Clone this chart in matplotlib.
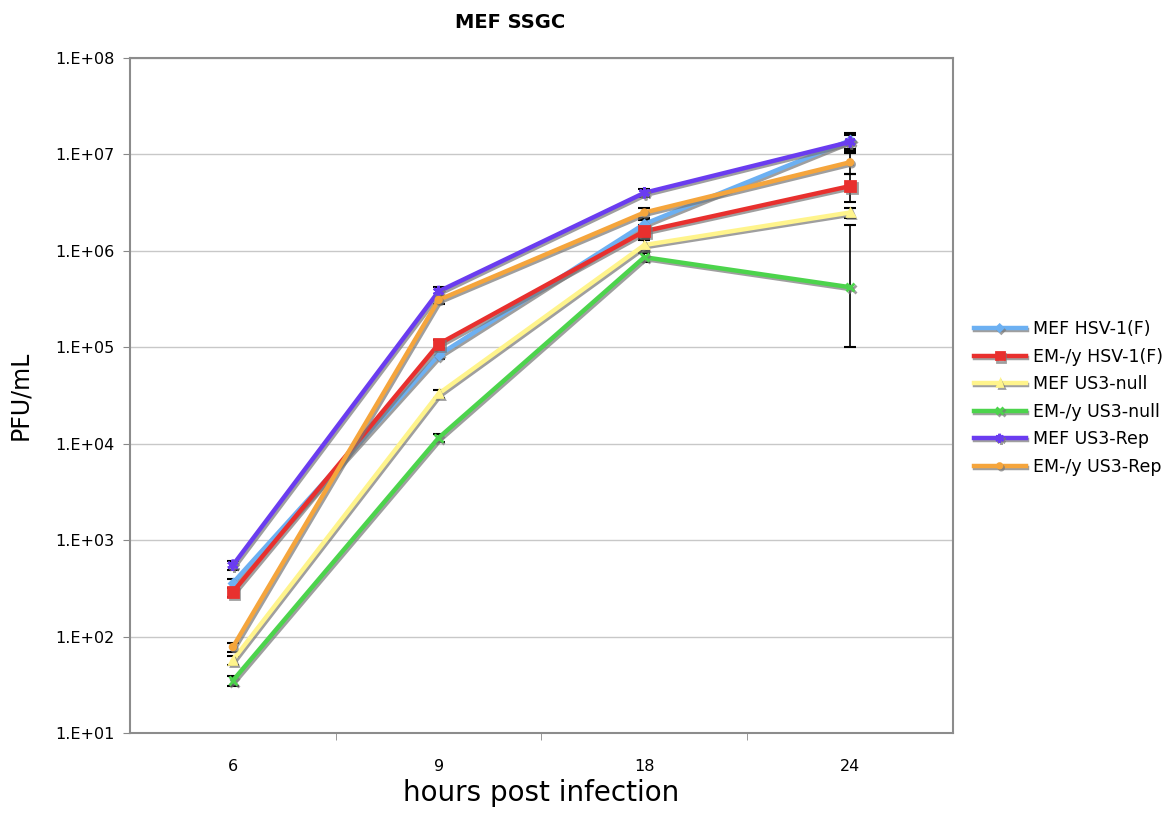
import numpy as np
import matplotlib
matplotlib.use("Agg")
import matplotlib.pyplot as plt
import matplotlib.patheffects as pe
from matplotlib.ticker import FixedLocator, FuncFormatter, NullFormatter

# ── data ──────────────────────────────────────────────────────────
hours = ["6", "9", "18", "24"]

series = ["MEF HSV-1(F)", "EM-/y HSV-1(F)", "MEF US3-null",
          "EM-/y US3-null", "MEF US3-Rep", "EM-/y US3-Rep"]

mef_hsv   = [360, 8.3e4, 1.9e6, 1.4e7]
em_hsv    = [290, 1.08e5, 1.6e6, 4.7e6]
mef_null  = [57, 3.3e4, 1.15e6, 2.5e6]
em_null   = [35, 1.15e4, 8.6e5, 4.2e5]
mef_rep   = [550, 3.8e5, 4.0e6, 1.35e7]
em_rep    = [78, 3.1e5, 2.5e6, 8.3e6]

# error bars (lower, upper)
mef_hsv_err  = ([40, 8e3, 2e5, 2.5e6], [40, 8e3, 2e5, 2.5e6])
em_hsv_err   = ([30, 1e4, 2.5e5, 1.5e6], [30, 1e4, 2.5e5, 1.5e6])
mef_null_err = ([6, 3e3, 1.5e5, 3e5], [6, 3e3, 1.5e5, 3e5])
em_null_err  = ([4, 1e3, 1e5, 3.2e5], [4, 1e3, 1e5, 1.43e6])
mef_rep_err  = ([60, 4e4, 4e5, 2.6e6], [60, 4e4, 4e5, 2.6e6])
em_rep_err   = ([8, 3e4, 3e5, 2e6], [8, 3e4, 3e5, 2e6])

values = [mef_hsv, em_hsv, mef_null, em_null, mef_rep, em_rep]
errors = [mef_hsv_err, em_hsv_err, mef_null_err, em_null_err, mef_rep_err, em_rep_err]

colors  = ["#6cb0f2", "#e8302e", "#fff48c", "#4cd44c", "#6a3cf0", "#f5a53c"]
markers = ["D", "s", "^", "x", (6, 2, 0), "o"]
msizes  = [4, 7, 5, 6, 8, 4]

fig = plt.figure(figsize=(11.63, 8.16), dpi=100)
ax = fig.add_axes([0.1118, 0.1017, 0.7076, 0.8272])

x = np.arange(len(hours))
shadow = [pe.SimpleLineShadow(offset=(1.2, -1.5), shadow_color="#777777", alpha=0.7),
          pe.Normal()]

for i, (lab, v, err) in enumerate(zip(series, values, errors)):
    ax.errorbar(x, v, yerr=np.array(err), fmt="none", ecolor="black",
                elinewidth=1.2, capsize=4, capthick=1.5, zorder=2)
    ax.plot(x, v, color=colors[i], lw=3.2, marker=markers[i], ms=msizes[i],
            mec=colors[i], mfc=colors[i], mew=2, label=lab,
            path_effects=shadow, zorder=3 + i)

ax.set_yscale("log")
ax.set_ylim(1e1, 1e8)
ax.set_xlim(-0.5, 3.5)

ax.yaxis.set_major_locator(FixedLocator([10.0 ** k for k in range(1, 9)]))
ax.yaxis.set_minor_locator(FixedLocator([]))
ax.yaxis.set_major_formatter(FuncFormatter(lambda v, p: "1.E+%02d" % round(np.log10(v))))
ax.grid(axis="y", which="major", color="#c8c8c8", lw=1)
ax.set_axisbelow(True)

ax.set_xticks(x)
ax.set_xticklabels(hours)
ax.set_xticks([0.5, 1.5, 2.5], minor=True)
ax.xaxis.set_minor_formatter(NullFormatter())
ax.tick_params(axis="x", which="major", length=0, pad=19, labelsize=11.5)
ax.tick_params(axis="x", which="minor", length=5, color="#888888")
ax.tick_params(axis="y", which="major", length=5, color="#888888", labelsize=11.5, pad=6)

for s in ax.spines.values():
    s.set_color("#8c8c8c")
    s.set_linewidth(1.5)

fig.text(510 / 1163, 1 - 22 / 816, "MEF SSGC", fontsize=14, fontweight="bold",
         ha="center", va="center")
ax.set_ylabel("PFU/mL", fontsize=17)
ax.yaxis.set_label_coords(-0.119, 0.5)
ax.set_xlabel("hours post infection", fontsize=20, labelpad=3)

leg = ax.legend(loc="center left", bbox_to_anchor=(958 / 1163, 1 - 398 / 816),
                bbox_transform=fig.transFigure, frameon=False,
                fontsize=12.5, handlelength=3, labelspacing=0.55,
                handletextpad=0.4, markerscale=0.8)

fig.savefig("out.png", dpi=100)
